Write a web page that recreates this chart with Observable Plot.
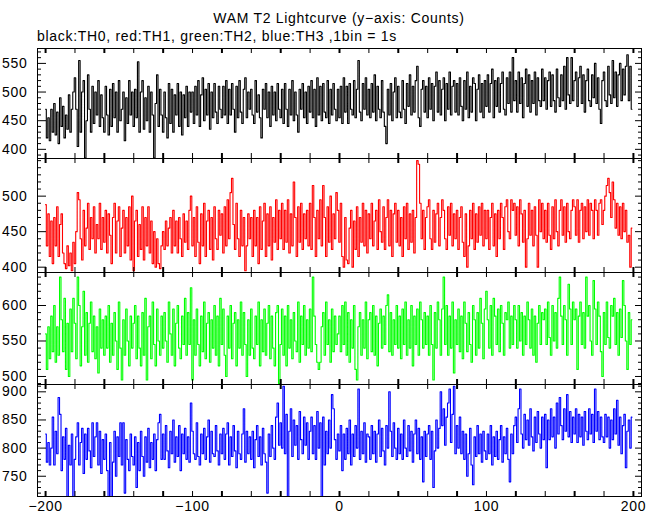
<!DOCTYPE html>
<html><head><meta charset="utf-8">
<script src="https://cdn.jsdelivr.net/npm/d3@7"></script>
<script src="https://cdn.jsdelivr.net/npm/@observablehq/plot@0.6"></script>
<style>
body{margin:0;background:#fff;}
#wrap{position:relative;width:660px;height:515px;background:#fff;font-family:"Liberation Sans",Arial,sans-serif;color:#000;overflow:hidden;}
.t{position:absolute;font-size:14px;line-height:16px;letter-spacing:0.7px;white-space:nowrap;}
#title{left:0;width:678px;text-align:center;top:10px;}
#sub{left:37px;top:28px;}
.p{position:absolute;left:0;}
</style></head>
<body>
<div id="wrap">
<div class="t" id="title">WAM T2 Lightcurve (y−axis: Counts)</div>
<div class="t" id="sub">black:TH0, red:TH1, green:TH2, blue:TH3 ,1bin = 1s</div>
</div>
<script>
const startBin = -200;
const xTickLabels = [-200, -100, 0, 100, 200];
const titles = ["TH0", "TH1", "TH2", "TH3"];

const TH0 = [
470,420,455,415,470,430,480,425,465,410,490,440,475,420,460,435,495,430,470,500,
525,470,405,555,430,500,520,385,450,530,470,430,510,445,500,460,520,440,495,455,
430,510,460,425,505,440,515,455,500,430,520,450,470,500,415,490,445,520,460,500,
440,505,455,553,430,500,520,435,490,450,510,430,500,460,385,480,530,440,505,460,
430,500,455,420,515,445,505,430,495,460,515,440,500,425,495,455,510,440,500,465,
500,445,510,460,520,440,495,525,450,505,460,515,435,500,455,515,465,445,510,470,
455,510,460,520,445,505,460,515,470,430,510,455,520,465,445,505,525,455,500,470,
505,460,445,520,465,495,455,420,505,470,515,455,500,440,510,460,500,450,515,470,
455,505,445,515,470,440,505,460,520,450,500,460,430,505,470,515,455,500,445,510,
465,520,455,505,440,525,460,510,450,515,465,455,520,445,505,460,515,470,450,505,
455,510,445,525,465,510,445,515,470,460,520,455,505,555,465,450,515,470,525,460,
505,455,515,465,530,450,510,470,455,520,465,440,410,505,460,515,450,500,525,455,
510,465,455,520,470,445,515,475,530,460,510,465,520,545,455,440,505,520,465,510,
455,525,470,515,450,510,535,465,520,460,505,525,450,515,470,535,460,510,520,465,
515,460,525,475,450,520,470,535,455,510,465,525,515,450,505,530,465,515,455,520,
475,530,465,515,540,455,520,475,525,465,515,535,470,460,525,480,535,465,560,485,
520,465,535,480,525,455,515,540,475,530,465,520,480,535,460,525,485,475,540,485,
525,470,520,535,475,530,485,465,540,490,475,530,485,545,470,560,495,480,560,485,
520,535,475,525,545,480,530,465,520,540,485,475,530,490,550,480,525,470,445,520,
535,485,475,545,495,480,555,490,535,475,530,550,485,540,495,545,565,485,545,470];

const TH1 = [
488,430,475,415,465,405,470,430,485,415,460,475,420,405,398,430,402,420,395,435,
405,450,505,495,440,410,480,430,455,490,425,470,440,485,420,460,440,490,425,470,
435,480,420,475,445,405,470,490,420,465,485,415,455,480,420,470,430,485,410,500,
395,465,480,415,460,425,485,410,470,430,485,420,465,405,450,400,440,405,398,430,
450,425,465,430,455,470,420,480,430,465,420,470,440,415,475,435,465,425,480,500,
430,470,415,485,435,405,475,430,490,415,465,480,425,470,410,485,440,425,480,445,
475,420,485,430,495,440,505,525,460,425,490,440,415,480,430,470,395,430,475,440,
470,415,480,430,470,405,485,425,465,490,415,475,430,485,410,470,435,495,425,480,
440,490,425,480,435,495,420,475,430,520,470,415,485,435,490,425,475,440,480,430,
490,425,515,470,415,480,440,495,430,515,470,415,485,435,500,425,475,440,505,480,
435,490,415,400,470,410,405,455,480,400,465,425,485,415,470,435,490,430,480,420,
475,440,490,430,465,480,425,495,450,435,485,425,470,495,430,480,415,475,490,435,
480,430,470,415,485,440,490,425,475,435,480,420,470,550,545,490,440,480,425,470,
485,495,440,425,480,435,475,490,430,470,495,480,440,425,485,445,490,430,475,440,
480,425,470,485,435,415,475,400,430,480,440,490,425,475,435,485,445,490,430,480,
440,480,425,470,490,430,475,415,480,440,490,470,425,485,495,450,440,495,480,490,
445,485,430,495,475,435,480,400,440,490,445,480,430,485,445,400,495,450,490,440,
480,435,490,445,425,485,440,495,450,430,480,495,445,485,435,490,450,440,480,495,
485,445,495,435,480,490,440,485,450,495,445,490,480,440,495,480,445,490,495,460,
480,500,515,525,505,470,520,495,455,490,445,485,440,490,450,480,435,445,400,455];

const TH2 = [
560,510,570,525,585,535,600,520,570,530,640,580,535,610,510,575,500,595,535,610,
575,525,640,600,515,570,620,530,590,520,575,605,535,585,525,570,505,595,540,580,
530,585,540,600,520,575,530,590,550,510,605,540,495,580,530,595,550,515,585,540,
575,600,525,585,540,515,590,530,610,495,570,585,525,605,545,515,595,550,530,585,
540,590,550,520,605,560,530,595,515,575,600,540,525,585,545,610,530,590,545,625,
495,580,530,595,545,515,585,535,605,525,575,590,520,580,540,600,530,585,515,610,
545,595,530,500,585,540,600,525,575,590,515,580,540,605,530,590,545,500,580,530,
595,540,525,585,545,605,515,580,535,595,530,575,600,525,585,540,515,590,600,490,
545,595,530,585,515,600,540,580,525,590,550,535,605,520,585,545,600,530,580,540,
595,535,640,585,545,520,510,520,570,590,530,605,545,580,520,595,535,585,545,560,
585,535,600,545,605,530,590,520,580,540,600,510,495,570,590,530,580,540,605,525,
580,590,535,600,530,585,515,575,595,540,585,545,600,615,535,590,530,580,545,600,
540,585,525,595,545,605,530,580,540,600,515,585,545,595,530,605,580,540,590,545,
585,530,600,545,495,590,540,605,580,530,595,640,545,600,530,585,540,605,505,580,
545,595,535,585,525,605,575,535,590,545,520,600,580,530,590,540,610,575,525,595,
620,580,540,600,530,610,585,545,595,535,600,575,530,590,580,605,540,585,545,600,
580,540,600,550,590,530,585,545,605,580,540,595,530,585,520,575,600,545,590,580,
595,545,605,555,530,600,550,590,540,610,640,585,545,600,580,530,630,595,545,605,
580,595,510,585,605,545,590,540,640,585,600,550,530,635,595,545,605,585,535,500,
590,545,605,555,540,600,585,610,545,590,530,595,555,635,600,550,510,590,545,580];

const TH3 = [
825,775,810,770,800,855,770,830,790,890,860,760,820,780,835,713,805,770,825,713,
780,820,845,770,810,835,755,825,780,835,795,765,845,785,820,845,770,830,755,815,
780,825,760,713,810,713,775,830,750,820,785,845,770,845,720,815,780,760,825,785,
770,820,730,810,760,830,785,750,820,775,835,765,810,780,825,760,815,845,860,780,
825,780,840,795,765,830,790,850,775,820,785,840,760,825,790,835,780,820,775,880,
830,790,780,845,785,770,825,790,835,780,820,850,775,830,790,785,840,795,770,825,
790,835,780,825,845,770,820,785,840,795,765,830,790,780,825,870,775,830,790,820,
780,830,765,815,840,785,820,770,835,790,775,720,825,785,840,800,780,855,880,805,
845,800,910,790,860,713,830,870,785,850,805,840,780,865,815,790,855,805,845,780,
830,855,790,840,780,865,800,845,713,855,770,830,790,850,800,895,870,815,780,825,
795,840,760,825,780,835,790,850,770,825,785,840,800,905,780,830,790,845,775,825,
820,780,840,790,830,775,825,850,785,835,795,770,840,800,900,830,785,845,800,780,
835,790,825,780,850,800,785,840,795,830,775,825,850,790,835,780,820,740,830,785,
825,840,780,830,730,795,850,800,835,900,840,870,805,855,880,905,810,860,910,790,
840,800,855,790,830,780,825,750,790,835,770,735,820,785,840,790,825,775,830,795,
780,825,790,840,770,820,785,830,780,815,840,775,820,790,835,780,740,825,790,840,
855,810,870,905,825,800,860,815,850,805,870,820,795,855,810,865,825,800,855,815,
860,765,850,815,870,820,855,800,880,825,890,840,815,870,830,895,820,865,810,855,
825,870,810,860,820,855,805,865,830,815,870,825,860,810,905,830,865,815,855,820,
810,860,820,855,800,850,815,870,825,885,805,855,790,840,860,765,830,850,800,855];

const series = [TH0, TH1, TH2, TH3];
const colors = ["#000000", "#ff0000", "#00ff00", "#0000ff"];
const yDomains = [[384, 576], [392.5, 553], [488.7, 646.5], [714, 913]];
const yLabels = [[400, 450, 500, 550], [400, 450, 500], [500, 550, 600], [750, 800, 850, 900]];

const layout = [
  {top: 47, innerH: 110},
  {top: 157, innerH: 114},
  {top: 271, innerH: 112},
  {top: 383, innerH: 112}
];

const W = 660, ML = 37, MR = 19;
const innerW = W - ML - MR;
const xTicks = d3.range(-200, 201, 20);
const xThick = xTicks.filter(d => d % 40 === 0);
const xThin = xTicks.filter(d => d % 40 !== 0);

const wrap = document.getElementById("wrap");

series.forEach((vals, i) => {
  const data = vals.map((v, j) => ({t: startBin + j, v}));
  const {top, innerH} = layout[i];
  const last = i === series.length - 1;
  const dom = yDomains[i];
  const yMinor = d3.range(Math.ceil(dom[0] / 10) * 10, dom[1], 10).filter(d => !yLabels[i].includes(d));
  const yMajor = yLabels[i];
  const marks = [
    Plot.lineY(data, {x: "t", y: "v", curve: "step", stroke: colors[i], strokeWidth: 1.1, clip: true}),
    Plot.frame({stroke: "black", strokeWidth: 1}),
    Plot.tickY(yMinor, {y: d => d, insetRight: innerW - 4, stroke: "black"}),
    Plot.tickY(yMajor, {y: d => d, insetRight: innerW - 9, stroke: "black"}),
    Plot.tickY(yMinor, {y: d => d, insetLeft: innerW - 3, stroke: "black"}),
    Plot.tickY(yMajor, {y: d => d, insetLeft: innerW - 6, stroke: "black"}),
    Plot.tickX(xThin, {x: d => d, insetTop: innerH - 5, stroke: "black", strokeWidth: 1}),
    Plot.tickX(xThick, {x: d => d, insetTop: innerH - 5, stroke: "black", strokeWidth: 2}),
    Plot.tickX(xThin, {x: d => d, insetBottom: innerH - 5, stroke: "black", strokeWidth: 1}),
    Plot.tickX(xThick, {x: d => d, insetBottom: innerH - 5, stroke: "black", strokeWidth: 2}),
    Plot.axisY(yMajor, {anchor: "left", tickSize: 0, tickPadding: 10, label: null})
  ];
  if (last) marks.push(Plot.axisX(xTickLabels, {anchor: "bottom", tickSize: 0, tickPadding: 5, label: null}));
  const chart = Plot.plot({
    width: W,
    height: innerH + 1 + (last ? 19 : 1),
    marginLeft: ML, marginRight: MR, marginTop: 1, marginBottom: last ? 19 : 1,
    x: {domain: [-205.5, 205.5], axis: last ? undefined : null},
    y: {domain: dom},
    style: {background: "transparent", fontSize: "14px", fontFamily: "'Liberation Sans', Arial, sans-serif", letterSpacing: "0.7px", color: "black", overflow: "visible"},
    marks
  });
  chart.classList.add("p");
  chart.style.top = top + "px";
  chart.setAttribute("aria-label", "WAM T2 " + titles[i]);
  wrap.appendChild(chart);
});
</script>
</body></html>
